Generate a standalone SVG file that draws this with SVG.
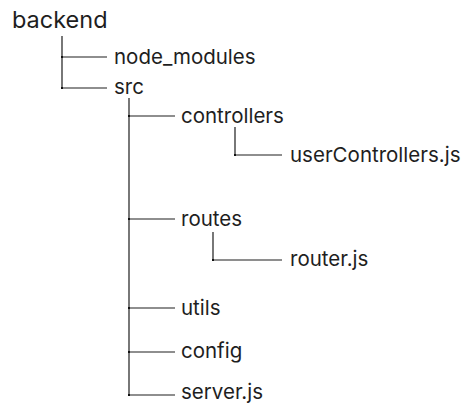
<svg xmlns="http://www.w3.org/2000/svg" width="464" height="403" viewBox="0 0 464 403">
<style>
.t{font-family:Inter,"Noto Sans",sans-serif;font-size:20.5px;fill:#1e1e1e}
.r{font-size:23.5px}
.l{stroke:#1e1e1e;stroke-width:1.2;fill:none}
.d{fill:#111}
</style>
<rect width="464" height="403" fill="#fff"/>
<g id="connectors">
<path class="l" d="M62 36V88M62 57H107M62 88H107"/>
<path class="l" d="M129 98V395M129 116H175M129 219H175M129 308H175M129 352H175M129 395H175"/>
<path class="l" d="M235 127V155H282M213 232V260H282"/>
<g class="d">
<rect x="61" y="56" width="2" height="2"/><rect x="61" y="87" width="2" height="2"/>
<rect x="128" y="115" width="2" height="2"/><rect x="128" y="218" width="2" height="2"/>
<rect x="128" y="307" width="2" height="2"/><rect x="128" y="351" width="2" height="2"/>
<rect x="128" y="394" width="2" height="2"/>
<rect x="234" y="154" width="2" height="2"/><rect x="212" y="259" width="2" height="2"/>
</g>
</g>
<g id="backend"><text class="t r" x="12" y="28">backend</text></g>
<g id="node_modules"><text class="t" x="114" y="63.5">node_modules</text></g>
<g id="src"><text class="t" x="114" y="94">src</text></g>
<g id="controllers"><text class="t" x="181" y="122.5">controllers</text></g>
<g id="userControllers"><text class="t" x="290" y="162">userControllers.js</text></g>
<g id="routes"><text class="t" x="181" y="225.5">routes</text></g>
<g id="router"><text class="t" x="290" y="266">router.js</text></g>
<g id="utils"><text class="t" x="181" y="314.5">utils</text></g>
<g id="config"><text class="t" x="181" y="358">config</text></g>
<g id="server"><text class="t" x="181" y="398.5">server.js</text></g>
</svg>
